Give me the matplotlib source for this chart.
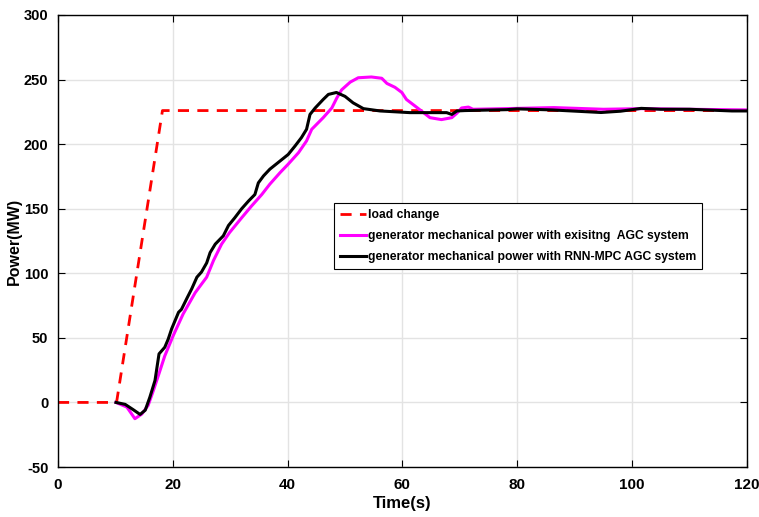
import matplotlib

matplotlib.use("Agg")
import matplotlib.pyplot as plt

plt.rcParams["font.family"] = ["Liberation Sans", "DejaVu Sans"]
plt.rcParams["font.weight"] = "bold"
plt.rcParams["axes.unicode_minus"] = False

# load change step (ramp)
load_t = [0, 10.2, 18.2, 120]
load_p = [0, 0, 226, 226]

# generator mechanical power, existing AGC
agc_t = [10.1, 12.0, 13.4, 14.6, 15.7, 16.6, 17.5, 18.6, 20.1, 21.8, 23.9, 25.9,
         27.1, 28.5, 29.9, 32.0, 33.7, 35.5, 36.9, 38.7, 40.1, 41.9, 43.3, 44.2,
         46.2, 47.7, 48.6, 49.4, 50.9, 52.3, 54.6, 56.4, 57.3, 58.7, 59.9, 60.7,
         62.2, 63.3, 64.8, 66.8, 68.6, 69.5, 70.3, 71.5, 72.3, 78, 86.4, 95, 102,
         110, 120]
agc_p = [0, -3.6, -12.6, -9, -2.3, 9, 21, 36, 52, 68.5, 85, 97,
         110, 122.6, 131.6, 143, 152, 161, 169, 178, 184.5, 193.4, 202.5, 211.5,
         220.5, 228, 236, 242, 248, 251.4, 252, 251, 247, 244, 240, 234.6,
         229.5, 225.7, 220.5, 219, 220.5, 224, 228, 228.7, 227, 227.5, 228.3, 227, 227.5,
         227, 226.5]

# generator mechanical power, RNN-MPC AGC
mpc_t = [10.1, 11.7, 13.1, 14.3, 15.2, 16.0, 16.9, 17.6, 18.6, 19.2, 19.8, 21.0,
         21.5, 22.5, 23.3, 24.2, 25.0, 25.9, 26.5, 27.4, 28.8, 29.7, 30.8, 32.0,
         33.2, 34.3, 34.9, 35.8, 36.9, 38.7, 40.1, 41.3, 42.4, 43.3, 43.9, 44.8,
         46.2, 47.1, 48.5, 50.0, 51.4, 53.2, 56.1, 61.3, 67.7, 68.6, 69.5, 70.9,
         78.2, 80, 86, 94.6, 98, 101.6, 105, 110, 117.4, 120]
mpc_p = [0, -1.5, -5.6, -9.3, -6, 4, 17, 37.6, 42.7, 49, 57, 69.8,
         72, 81, 88, 97, 101, 108, 116, 122.6, 129, 137, 143, 150,
         156, 161, 170, 175.4, 180.6, 187, 192, 198.6, 205, 211.5, 223, 228,
         234.6, 238.5, 240, 237, 232, 227.5, 225.7, 224.4, 224.4, 223, 225.7, 226,
         226.7, 227.3, 226.5, 224.5, 225.5, 227.7, 227, 227, 225.7, 225.7]

fig = plt.figure(figsize=(7.59, 5.17), dpi=100)
ax = fig.add_axes([0.0764, 0.0967, 0.9076, 0.8743])

ax.plot(load_t, load_p, color="red", linestyle=(0, (4, 3)), linewidth=2,
        label="load change")
ax.plot(agc_t, agc_p, color="magenta", linewidth=2.2,
        label="generator mechanical power with exisitng  AGC system")
ax.plot(mpc_t, mpc_p, color="black", linewidth=2.2,
        label="generator mechanical power with RNN-MPC AGC system")

ax.set_xlim(0, 120)
ax.set_ylim(-50, 300)
ax.set_xticks(range(0, 121, 20))
ax.set_yticks(range(-50, 301, 50))
ax.tick_params(direction="in", top=True, right=True, labelsize=11, length=5)
ax.tick_params(axis="x", pad=8)
ax.tick_params(axis="y", pad=7, labelsize=10.5)
ax.grid(True, color="#e3e3e3", linewidth=1)
ax.set_axisbelow(True)
for s in ax.spines.values():
    s.set_linewidth(1)
ax.set_xlabel("Time(s)", fontsize=12, fontweight="bold", labelpad=3)
ax.set_ylabel("Power(MW)", fontsize=11.5, fontweight="bold")
ax.yaxis.set_label_coords(-0.053, 0.5)

leg = ax.legend(loc="upper left", bbox_to_anchor=(0.40, 0.584), fontsize=8.75,
                handlelength=2.2, handletextpad=0.1, borderpad=0.5,
                labelspacing=0.75, fancybox=False, framealpha=1, borderaxespad=0)
leg.get_frame().set_edgecolor("black")
leg.get_frame().set_linewidth(0.8)

fig.savefig("out.png", dpi=100)
plt.close(fig)
